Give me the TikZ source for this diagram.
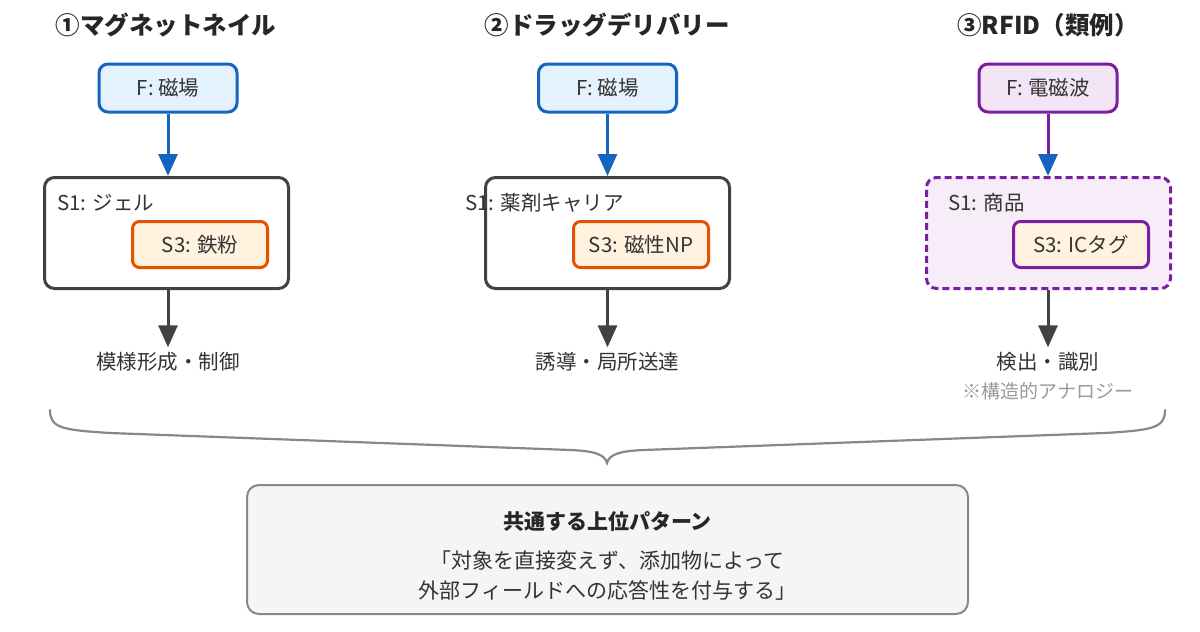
\documentclass[tikz,border=0pt]{standalone}
\usepackage{fontspec}
\setmainfont{Noto Sans CJK JP}
\usetikzlibrary{arrows.meta}
\definecolor{blueB}{HTML}{1565C0}
\definecolor{blueF}{HTML}{E3F2FD}
\definecolor{orB}{HTML}{E65100}
\definecolor{orF}{HTML}{FFF3E0}
\definecolor{puB}{HTML}{7B1FA2}
\definecolor{puF}{HTML}{F3E5F5}
\definecolor{dk}{HTML}{424242}
\definecolor{gr}{HTML}{888888}
\definecolor{txt}{HTML}{333333}
\definecolor{bgbox}{HTML}{F5F5F5}
\tikzset{
  body/.style={font=\fontsize{20.5}{24}\selectfont, text=txt},
  title/.style={font=\fontsize{24.5}{28}\selectfont\bfseries, text=black!85},
  fbox/.style={draw=blueB, fill=blueF, line width=3pt, rounded corners=9pt,
    minimum width=138pt, minimum height=48pt, body},
  s1box/.style={draw=dk, fill=white, line width=3pt, rounded corners=10pt,
    minimum width=244pt, minimum height=111pt},
  s3box/.style={draw=orB, fill=orF, line width=3pt, rounded corners=7pt,
    minimum width=135pt, minimum height=46pt, body},
  arr/.style={line width=3pt, -{Triangle[width=19pt,length=22pt]}},
  outtxt/.style={body, inner sep=5pt},
}
\begin{document}
\begin{tikzpicture}[x=1pt,y=-1pt]
\useasboundingbox (0,0) rectangle (1200,632);
\fill[white] (0,0) rectangle (1200,632);

% titles
\node[title] (t1) at (166,25) {①マグネットネイル};
\node[title] (t2) at (607,25) {②ドラッグデリバリー};
\node[title] (t3) at (1048,25) {③RFID（類例）};

% column 1
\node[fbox] (f1) at (168,88) {F: 磁場};
\node[s1box] (s11) at (166.5,233) {};
\node[body, anchor=west, inner sep=0pt] (l11) at (57,203) {S1: ジェル};
\node[s3box] (s31) at (200,244.5) {S3: 鉄粉};
\draw[arr, blueB] (f1.south) -- (f1.south |- s11.north);
\node[outtxt] (o1) at (168,362) {模様形成・制御};
\draw[arr, dk] (s11.south -| o1) -- (o1.north);

% column 2
\node[fbox] (f2) at (607.5,88) {F: 磁場};
\node[s1box] (s12) at (607.5,233) {};
\node[body, anchor=west, inner sep=0pt] (l12) at (465,203) {S1: 薬剤キャリア};
\node[s3box] (s32) at (641,244.5) {S3: 磁性NP};
\draw[arr, blueB] (f2.south) -- (s12.north);
\node[outtxt] (o2) at (607.5,362) {誘導・局所送達};
\draw[arr, dk] (s12.south) -- (o2.north);

% column 3
\node[fbox, draw=puB, fill=puF] (f3) at (1048,88) {F: 電磁波};
\node[s1box, draw=puB, fill=puF!70, dashed, dash pattern=on 7pt off 4pt] (s13) at (1048.5,233) {};
\node[body, anchor=west, inner sep=0pt] (l13) at (948,203) {S1: 商品};
\node[s3box, draw=puB] (s33) at (1081,244.5) {S3: ICタグ};
\draw[line width=3pt, puB, -{Triangle[width=19pt,length=22pt,color=blueB]}] (f3.south) -- (f3.south |- s13.north);
\node[outtxt] (o3) at (1048,362) {検出・識別};
\draw[arr, dk] (s13.south -| o3) -- (o3.north);
\node[font=\fontsize{19}{22}\selectfont, text=gr!85] (n3) at (1048,391) {※構造的アナロジー};

% brace
\draw[gr, line width=2.2pt, line cap=round]
  (50,410) .. controls (50,428) and (62,430) .. (110,433)
  -- (570,450) .. controls (596,451) and (605,455) .. (607,463)
  .. controls (609,455) and (618,451) .. (644,450)
  -- (1105,433) .. controls (1153,430) and (1165,428) .. (1165,410);

% bottom box
\node[draw=gr, fill=bgbox, line width=2pt, rounded corners=12pt,
  minimum width=721pt, minimum height=129pt] (pat) at (607.5,549.5) {};
\node[font=\fontsize{21}{24}\selectfont\bfseries, text=black!85] (pt) at (607.5,522) {共通する上位パターン};
\node[body, align=center, font=\fontsize{21}{30}\selectfont] (pd) at (607.5,576) {「対象を直接変えず、添加物によって\\外部フィールドへの応答性を付与する」};
\end{tikzpicture}
\end{document}
